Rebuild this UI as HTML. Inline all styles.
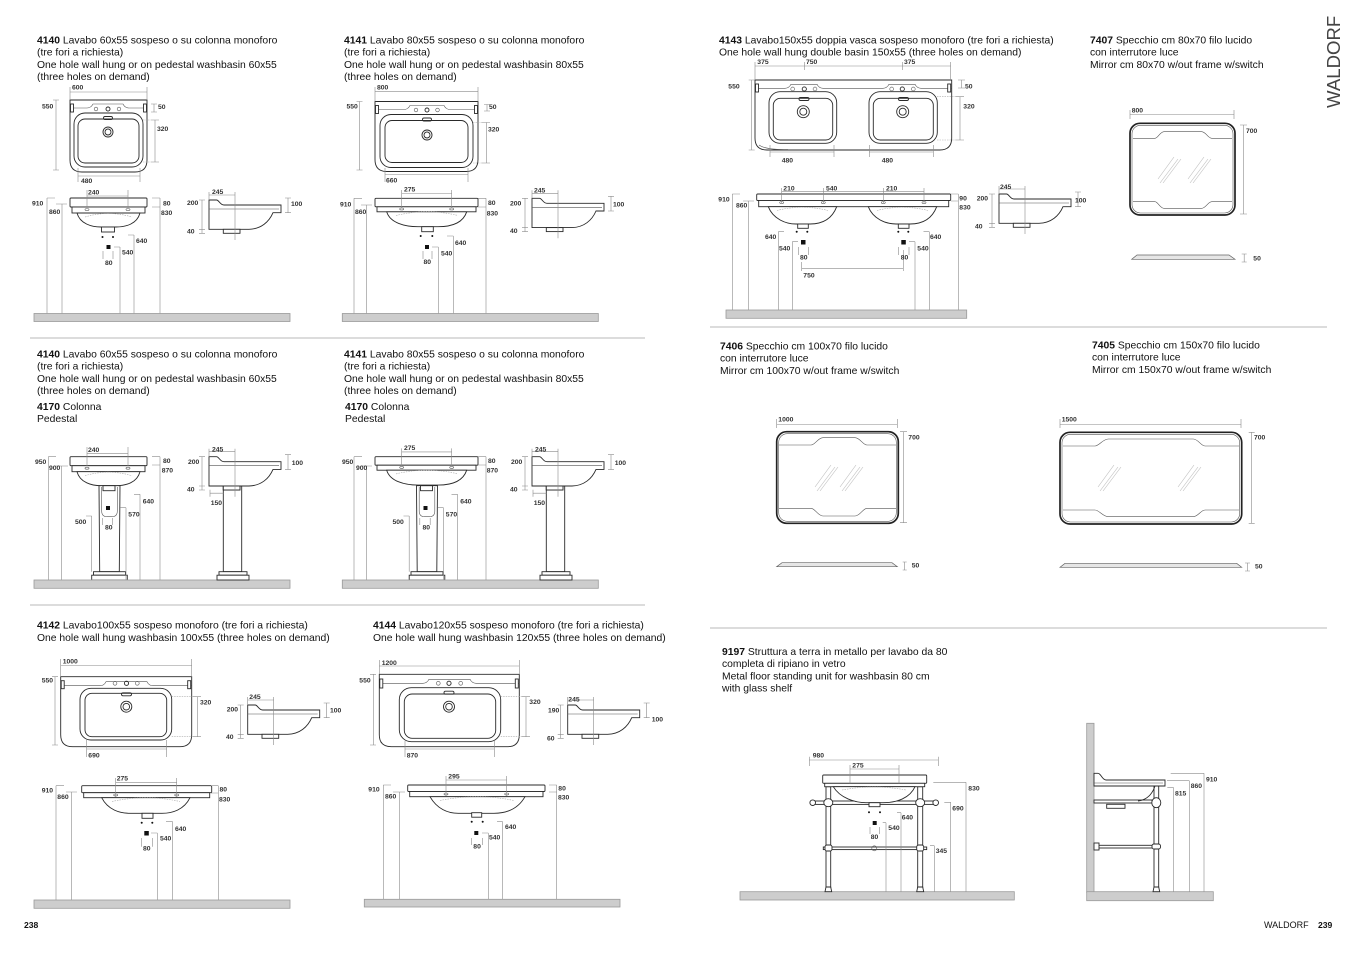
<!DOCTYPE html>
<html>
<head>
<meta charset="utf-8">
<style>
html,body{margin:0;padding:0;background:#fff;}
svg{display:block;}
</style>
</head>
<body>
<svg xmlns="http://www.w3.org/2000/svg" width="1356" height="959" viewBox="0 0 1356 959">
<style>
.o{fill:none;stroke:#2a2a2a;stroke-width:.9}
.w{fill:#fff;stroke:#2a2a2a;stroke-width:.9}
.th{fill:none;stroke:#555;stroke-width:.6}
.d{fill:none;stroke:#8a8a8a;stroke-width:.6}
.dd{fill:none;stroke:#aaa;stroke-width:.6;stroke-dasharray:1.5 1}
.fl{fill:#cdcdcd;stroke:#9a9a9a;stroke-width:.8}
.n{font-family:"Liberation Sans",Arial,sans-serif;font-size:6.8px;font-weight:bold;fill:#333}
.h{font-family:"Liberation Sans",Arial,sans-serif;font-size:10.35px;fill:#111}
.r{fill:none;stroke:#bdbdbd;stroke-width:.6}
.m{fill:none;stroke:#222;stroke-width:1.7}
.pf{fill:#e6e6e6;stroke:#666;stroke-width:.7}
.sep{stroke:#dcdcdc;stroke-width:2}
.k{fill:#111}
</style>
<rect width="1356" height="959" fill="#fff"/>

<defs>
<g id="sideShape">
 <path class="w" d="M0,0 H7.5 C10,0 11,5 15,5 H72 V12.7 H64 C60,22 52,29 40,29.3 H0 Z"/>
 <path class="th" d="M0,9 H70"/>
 <rect class="w" x="14.3" y="29.3" width="16.7" height="4"/>
</g>
<g id="sideDims">
 <path class="d" d="M0,-5 H26 M0,-8 V0 M26,-8 V40 M-7,0 V33.3 M-10,0 H-4 M-10,29.3 H-4 M-10,33.3 H-4 M79,-2 V12.7 M76,-2 H82 M76,12.7 H82"/>
</g>
<g id="sideCol">
 <rect class="w" x="14.3" y="29.3" width="18.4" height="85.7"/>
 <rect class="w" x="14.3" y="29.3" width="16.7" height="4"/>
 <rect class="w" x="10" y="115" width="28" height="3.5"/>
 <rect class="w" x="8" y="118.5" width="32" height="4.8"/>
 <path class="d" d="M1,33 V40 M1,36.5 H14.3"/>
</g>
<g id="f60">
 <rect class="w" x="70" y="198" width="77" height="9" rx="1"/>
 <rect class="w" x="72" y="207" width="73" height="6"/>
 <path class="w" d="M77,213 C80,224 92,227 101,227 H116 C126,227 137,224 140,213 Z"/>
 <path class="dd" d="M85,217 Q108,210 132,217"/>
 <ellipse class="th" cx="87" cy="209.5" rx="2" ry="1"/>
 <ellipse class="th" cx="128" cy="209.5" rx="2" ry="1"/>
</g>
<g id="f80">
 <rect class="w" x="375" y="198.3" width="103" height="8.5" rx="1"/>
 <rect class="w" x="377" y="206.8" width="99" height="5"/>
 <path class="w" d="M386.7,211.8 C390,223 405,226.7 418,226.7 H438 C452,226.7 463,223 466.7,211.8 Z"/>
 <path class="dd" d="M396,215.5 Q427,208 458,215.5"/>
 <ellipse class="th" cx="401.7" cy="209" rx="2" ry="1"/>
 <ellipse class="th" cx="451.7" cy="209" rx="2" ry="1"/>
</g>
<g id="ped">
 <path class="w" d="M99,485.7 H120 L119.3,571.7 H99.7 Z"/>
 <path class="th" d="M101.7,487 V511 Q101.7,516.7 107,516.7 H112 Q117.3,516.7 117.3,511 V487"/>
 <rect class="w" x="103" y="485.7" width="12" height="5"/>
 <rect class="k" x="106" y="506" width="4" height="4"/>
 <rect class="w" x="93.5" y="571.7" width="32" height="3.5"/>
 <rect class="w" x="91.7" y="575.2" width="35.6" height="4.8"/>
 <path class="d" d="M140,494.3 V580 M134,494.3 H140 M126,507.7 V580 M120,507.7 H126 M91.7,516 V571.7 M86,516 H91.7 M102.3,518 V525 M112.7,518 V525"/>
</g>
<g id="refl">
 <path class="r" d="M2,26 L20,2 M5,26 L23,2 M0,22 L16,0"/>
</g>
</defs>

<!-- separators -->
<line class="sep" x1="30" y1="338" x2="645" y2="338"/>
<line class="sep" x1="30" y1="605" x2="645" y2="605"/>
<line class="sep" x1="710" y1="327" x2="1327" y2="327"/>
<line class="sep" x1="710" y1="628" x2="1327" y2="628"/>

<!-- ================= HEADERS ================= -->
<text class="h" x="37" y="43.5"><tspan font-weight="bold">4140</tspan> Lavabo 60x55 sospeso o su colonna monoforo</text>
<text class="h" x="37" y="55.7">(tre fori a richiesta)</text>
<text class="h" x="37" y="67.9">One hole wall hung or on pedestal washbasin 60x55</text>
<text class="h" x="37" y="80.1">(three holes on demand)</text>

<text class="h" x="344" y="43.5"><tspan font-weight="bold">4141</tspan> Lavabo 80x55 sospeso o su colonna monoforo</text>
<text class="h" x="344" y="55.7">(tre fori a richiesta)</text>
<text class="h" x="344" y="67.9">One hole wall hung or on pedestal washbasin 80x55</text>
<text class="h" x="344" y="80.1">(three holes on demand)</text>

<text class="h" x="37" y="357.5"><tspan font-weight="bold">4140</tspan> Lavabo 60x55 sospeso o su colonna monoforo</text>
<text class="h" x="37" y="369.7">(tre fori a richiesta)</text>
<text class="h" x="37" y="381.9">One hole wall hung or on pedestal washbasin 60x55</text>
<text class="h" x="37" y="394.1">(three holes on demand)</text>
<text class="h" x="37" y="410"><tspan font-weight="bold">4170</tspan> Colonna</text>
<text class="h" x="37" y="422.2">Pedestal</text>

<text class="h" x="344" y="357.5"><tspan font-weight="bold">4141</tspan> Lavabo 80x55 sospeso o su colonna monoforo</text>
<text class="h" x="344" y="369.7">(tre fori a richiesta)</text>
<text class="h" x="344" y="381.9">One hole wall hung or on pedestal washbasin 80x55</text>
<text class="h" x="344" y="394.1">(three holes on demand)</text>
<text class="h" x="345" y="410"><tspan font-weight="bold">4170</tspan> Colonna</text>
<text class="h" x="345" y="422.2">Pedestal</text>

<text class="h" x="37" y="628.5"><tspan font-weight="bold">4142</tspan> Lavabo100x55 sospeso monoforo (tre fori a richiesta)</text>
<text class="h" x="37" y="641">One hole wall hung washbasin 100x55 (three holes on demand)</text>

<text class="h" x="373" y="628.5"><tspan font-weight="bold">4144</tspan> Lavabo120x55 sospeso monoforo (tre fori a richiesta)</text>
<text class="h" x="373" y="641">One hole wall hung washbasin 120x55 (three holes on demand)</text>

<text class="h" x="719" y="43.5"><tspan font-weight="bold">4143</tspan> Lavabo150x55 doppia vasca sospeso monoforo (tre fori a richiesta)</text>
<text class="h" x="719" y="55.7">One hole wall hung double basin 150x55 (three holes on demand)</text>

<text class="h" x="1090" y="43.5"><tspan font-weight="bold">7407</tspan> Specchio cm 80x70 filo lucido</text>
<text class="h" x="1090" y="55.7">con interrutore luce</text>
<text class="h" x="1090" y="67.9">Mirror cm 80x70 w/out frame w/switch</text>

<text class="h" x="720" y="349.5"><tspan font-weight="bold">7406</tspan> Specchio cm 100x70 filo lucido</text>
<text class="h" x="720" y="361.7">con interrutore luce</text>
<text class="h" x="720" y="373.9">Mirror cm 100x70 w/out frame w/switch</text>

<text class="h" x="1092" y="348.5"><tspan font-weight="bold">7405</tspan> Specchio cm 150x70 filo lucido</text>
<text class="h" x="1092" y="360.7">con interrutore luce</text>
<text class="h" x="1092" y="372.9">Mirror cm 150x70 w/out frame w/switch</text>

<text class="h" x="722" y="655"><tspan font-weight="bold">9197</tspan> Struttura a terra in metallo per lavabo da 80</text>
<text class="h" x="722" y="667.2">completa di ripiano in vetro</text>
<text class="h" x="722" y="679.4">Metal floor standing unit for washbasin 80 cm</text>
<text class="h" x="722" y="691.6">with glass shelf</text>

<!-- vertical title and page numbers -->
<text transform="translate(1340,108) rotate(-90)" font-family="Liberation Sans, Arial, sans-serif" font-size="18.6" fill="#444">WALDORF</text>
<text x="24" y="928" font-family="Liberation Sans, Arial, sans-serif" font-size="8.6" font-weight="bold" fill="#111">238</text>
<text x="1264" y="928" font-family="Liberation Sans, Arial, sans-serif" font-size="9" fill="#111">WALDORF</text>
<text x="1318" y="928" font-family="Liberation Sans, Arial, sans-serif" font-size="8.6" font-weight="bold" fill="#111">239</text>

<!-- ================= SECTION 1 : 4140 ================= -->
<path class="w" d="M70,100 H147 V160 Q147,172 135,172 H82 Q70,172 70,160 Z"/>
<path class="th" d="M70,108 H87 Q91,108 93,104 H123 Q125,108 129,108 H147"/>
<rect class="w" x="70.5" y="104" width="3" height="8"/>
<rect class="w" x="143.5" y="104" width="3" height="8"/>
<rect class="o" x="74" y="113" width="69" height="54" rx="11"/>
<rect class="o" x="78" y="119" width="61" height="44" rx="7"/>
<rect class="o" x="103.5" y="116.5" width="9" height="3" rx="1.5"/>
<circle class="o" cx="108" cy="132" r="5"/><circle class="o" cx="108" cy="132" r="3"/>
<circle class="th" cx="96" cy="109" r="1.8"/><circle class="o" cx="108" cy="109" r="2"/><circle class="th" cx="119" cy="109" r="1.8"/>
<path class="d" d="M70,92 H147 M70,87 V100 M147,87 V100 M56,100 V170 M53,100 H59 M53,170 H59 M154,104 V112 M151,104 H157 M151,112 H157 M155,120 V162 M151,120 H159 M151,162 H159 M78,176 H140 M78,168 V182 M140,168 V182"/>
<path class="dd" d="M143,120 H151 M143,162 H151"/>
<text class="n" x="72" y="89.5">600</text>
<text class="n" x="42" y="108.5">550</text>
<text class="n" x="158" y="109">50</text>
<text class="n" x="157" y="131">320</text>
<text class="n" x="81" y="183">480</text>

<use href="#f60"/>
<rect class="w" x="101.5" y="227" width="13" height="5"/>
<circle class="k" cx="102.5" cy="237" r="1"/><circle class="k" cx="113" cy="237" r="1"/>
<rect class="k" x="106.5" y="245" width="4" height="4"/>
<path class="d" d="M87,190 V208 M128,190 V208 M87,196 H128 M47,198 V314 M47,198 H55 M62,204 V314 M56,204 H67 M160,198 V314 M152,198 H160 M152,207 H160 M134,235 V314 M128,235 H134 M120,247 V314 M114,247 H120 M103,251 V259 M113,251 V259"/>
<text class="n" x="88" y="194.3">240</text>
<text class="n" x="32" y="205.5">910</text>
<text class="n" x="49" y="214">860</text>
<text class="n" x="163" y="205.5">80</text>
<text class="n" x="161" y="215">830</text>
<text class="n" x="136" y="243">640</text>
<text class="n" x="122" y="254.5">540</text>
<text class="n" x="105" y="265">80</text>
<rect class="fl" x="34" y="313.5" width="256" height="8"/>

<use href="#sideShape" transform="translate(209,200)"/>
<use href="#sideDims" transform="translate(209,200)"/>
<text class="n" x="212" y="194">245</text>
<text class="n" x="187" y="205">200</text>
<text class="n" x="187" y="233.5">40</text>
<text class="n" x="291" y="206">100</text>

<!-- ================= SECTION 2 : 4141 ================= -->
<path class="w" d="M375,101.5 H478 V159.5 Q478,171.5 466,171.5 H387 Q375,171.5 375,159.5 Z"/>
<path class="th" d="M375,109.5 H404 Q408,109.5 410,105.5 H444 Q446,109.5 450,109.5 H478"/>
<rect class="w" x="375.5" y="105.5" width="3" height="8"/>
<rect class="w" x="474.5" y="105.5" width="3" height="8"/>
<rect class="o" x="380" y="114.5" width="93" height="53" rx="11"/>
<rect class="o" x="385" y="120.5" width="83" height="42" rx="7"/>
<rect class="o" x="422.5" y="118" width="9" height="3" rx="1.5"/>
<circle class="o" cx="427" cy="135" r="5"/><circle class="o" cx="427" cy="135" r="3"/>
<circle class="th" cx="416" cy="110" r="1.8"/><circle class="o" cx="427" cy="110" r="2"/><circle class="th" cx="437.5" cy="110" r="1.8"/>
<path class="d" d="M375,91.7 H478 M375,87 V101.5 M478,87 V101.5 M359.5,101.5 V170 M356.5,101.5 H362.5 M356.5,170 H362.5 M487,104.5 V111 M484,104.5 H490 M484,111 H490 M486.5,122.5 V163 M482,122.5 H490 M482,163 H490 M385,174.5 H468 M385,168 V182 M468,168 V182"/>
<path class="dd" d="M473,122.5 H482 M473,163 H482"/>
<text class="n" x="377" y="89.5">800</text>
<text class="n" x="346.5" y="108.5">550</text>
<text class="n" x="489" y="109">50</text>
<text class="n" x="488" y="131.5">320</text>
<text class="n" x="386" y="182.5">660</text>

<use href="#f80"/>
<rect class="w" x="421.7" y="226.7" width="11.6" height="5"/>
<circle class="k" cx="420.7" cy="236" r="1"/><circle class="k" cx="432.3" cy="236" r="1"/>
<rect class="k" x="425" y="245" width="4" height="4"/>
<path class="d" d="M401.7,190 V208 M451.7,190 V208 M401.7,193.5 H451.7 M354,198.3 V313.5 M354,198.3 H362 M366.7,205 V313.5 M361,205 H372 M486,198.3 V313.5 M478,198.3 H486 M478,207 H486 M453.3,236 V313.5 M447,236 H453.3 M438.3,247 V313.5 M432,247 H438.3 M423,251 V259 M432,251 V259"/>
<text class="n" x="404" y="191.7">275</text>
<text class="n" x="340" y="206.5">910</text>
<text class="n" x="355" y="214">860</text>
<text class="n" x="488" y="205.2">80</text>
<text class="n" x="486.7" y="215.7">830</text>
<text class="n" x="455" y="245.1">640</text>
<text class="n" x="441" y="255.7">540</text>
<text class="n" x="423.5" y="264.1">80</text>
<rect class="fl" x="342.3" y="313.5" width="256" height="8"/>

<use href="#sideShape" transform="translate(532,198.3)"/>
<use href="#sideDims" transform="translate(532,198.3)"/>
<text class="n" x="534" y="192.4">245</text>
<text class="n" x="510" y="205.7">200</text>
<text class="n" x="510" y="233">40</text>
<text class="n" x="613" y="206.7">100</text>

<!-- ================= SECTION 3 : 4140 + 4170 ================= -->
<use href="#f60" transform="translate(0,258.7)"/>
<use href="#ped"/>
<path class="d" d="M87,447 V466 M128,447 V466 M87,453.3 H128 M48.3,456.7 V580 M48.3,456.7 H56 M61.7,466 V580 M56,466 H68 M160,456.7 V580 M152,456.7 H160 M152,465 H160"/>
<text class="n" x="88" y="452">240</text>
<text class="n" x="35" y="464">950</text>
<text class="n" x="49" y="470">900</text>
<text class="n" x="163" y="463">80</text>
<text class="n" x="161.7" y="472.5">870</text>
<text class="n" x="142.7" y="503.4">640</text>
<text class="n" x="128.3" y="516.4">570</text>
<text class="n" x="75" y="524.1">500</text>
<text class="n" x="105" y="529.7">80</text>
<rect class="fl" x="34" y="580" width="256" height="8.3"/>

<use href="#sideCol" transform="translate(209,456.7)"/>
<use href="#sideShape" transform="translate(209,456.7)"/>
<use href="#sideDims" transform="translate(209,456.7)"/>
<text class="n" x="212" y="451.7">245</text>
<text class="n" x="188" y="464.1">200</text>
<text class="n" x="187" y="491.7">40</text>
<text class="n" x="291.7" y="465.1">100</text>
<text class="n" x="210.7" y="505.1">150</text>

<!-- ================= SECTION 4 : 4141 + 4170 ================= -->
<use href="#f80" transform="translate(0,258.4)"/>
<use href="#ped" transform="translate(317.5,0)"/>
<path class="d" d="M401.7,448.4 V466.4 M451.7,448.4 V466.4 M401.7,451.9 H451.7 M354,456.7 V580 M354,456.7 H362 M366.7,466 V580 M361,466 H372 M486,456.7 V580 M478,456.7 H486 M478,465 H486"/>
<text class="n" x="404" y="450.1">275</text>
<text class="n" x="342" y="464">950</text>
<text class="n" x="356" y="470">900</text>
<text class="n" x="488" y="463">80</text>
<text class="n" x="486.7" y="472.5">870</text>
<text class="n" x="460.2" y="503.4">640</text>
<text class="n" x="445.8" y="516.4">570</text>
<text class="n" x="392.5" y="524.1">500</text>
<text class="n" x="422.5" y="529.7">80</text>
<rect class="fl" x="342.3" y="580" width="256" height="8.3"/>

<use href="#sideCol" transform="translate(532,456.7)"/>
<use href="#sideShape" transform="translate(532,456.7)"/>
<use href="#sideDims" transform="translate(532,456.7)"/>
<text class="n" x="535" y="451.7">245</text>
<text class="n" x="511" y="464.1">200</text>
<text class="n" x="510" y="491.7">40</text>
<text class="n" x="614.7" y="465.1">100</text>
<text class="n" x="533.7" y="505.1">150</text>

<!-- ================= SECTION 5 : 4142 ================= -->
<path class="w" d="M60.7,676.7 H191.7 V734.7 Q191.7,746.7 179.7,746.7 H72.7 Q60.7,746.7 60.7,734.7 Z"/>
<path class="th" d="M60.7,685.7 H100 Q104,685.7 106,681.7 H147 Q149,685.7 153,685.7 H191.7"/>
<rect class="w" x="61.2" y="680.7" width="3" height="8"/>
<rect class="w" x="187.7" y="680.7" width="3" height="8"/>
<rect class="o" x="80" y="688.3" width="91.7" height="51.7" rx="11"/>
<rect class="o" x="85" y="693.3" width="81.7" height="43.4" rx="7"/>
<rect class="o" x="121.5" y="692.8" width="10" height="3" rx="1.5"/>
<circle class="o" cx="126.3" cy="706.7" r="5.5"/><circle class="o" cx="126.3" cy="706.7" r="3.3"/>
<circle class="th" cx="115" cy="683.3" r="1.9"/><circle class="o" cx="126.5" cy="683.3" r="2.1"/><circle class="th" cx="137.3" cy="683.3" r="1.9"/>
<path class="d" d="M60.7,665.5 H191.7 M60.7,659 V676.7 M191.7,659 V676.7 M55,676.7 V745 M52,676.7 H58 M52,745 H58 M197.3,696.7 V736.7 M193,696.7 H201 M193,736.7 H201 M86.7,740 V757 M166.7,740 V757 M86.7,749 H166.7"/>
<path class="dd" d="M171.7,696.7 H193 M171.7,736.7 H193"/>
<text class="n" x="62.7" y="663.4">1000</text>
<text class="n" x="41.7" y="682.4">550</text>
<text class="n" x="200" y="704.7">320</text>
<text class="n" x="88.3" y="757.4">690</text>

<rect class="w" x="81.7" y="785.7" width="130" height="7" rx="1"/>
<rect class="w" x="83.7" y="792.7" width="126" height="5"/>
<path class="w" d="M101.7,797.7 C108,810 120,813.3 130,813.3 H162 C172,813.3 184,810 190,797.7 Z"/>
<path class="dd" d="M112,801.5 Q146,794 180,801.5"/>
<ellipse class="th" cx="115.7" cy="795" rx="2" ry="1"/><ellipse class="th" cx="176.7" cy="795" rx="2" ry="1"/>
<rect class="w" x="142" y="813.3" width="11" height="5"/>
<circle class="k" cx="141.7" cy="822.7" r="1"/><circle class="k" cx="152.3" cy="822.7" r="1"/>
<rect class="k" x="144.3" y="831" width="4.5" height="4.5"/>
<path class="d" d="M115.7,778 V797 M176.7,778 V797 M115.7,782.3 H176.7 M56,785.7 V900 M56,785.7 H64 M71.7,792 V900 M66,792 H77 M218.3,785.7 V900 M211,785.7 H218.3 M211,793 H218.3 M172.7,821.7 V900 M166,821.7 H172.7 M157.3,833 V900 M151,833 H157.3 M141.7,838 V846.7 M152.3,838 V846.7"/>
<text class="n" x="116.7" y="780.7">275</text>
<text class="n" x="41.7" y="792.4">910</text>
<text class="n" x="57.3" y="799.1">860</text>
<text class="n" x="219.5" y="791.7">80</text>
<text class="n" x="219" y="801.4">830</text>
<text class="n" x="175" y="831.1">640</text>
<text class="n" x="160" y="840.7">540</text>
<text class="n" x="143" y="850.7">80</text>
<rect class="fl" x="34" y="900" width="256" height="8.3"/>

<use href="#sideShape" transform="translate(247.7,705)"/>
<use href="#sideDims" transform="translate(247.7,705)"/>
<text class="n" x="249.3" y="699.1">245</text>
<text class="n" x="226.7" y="711.7">200</text>
<text class="n" x="226" y="739.1">40</text>
<text class="n" x="330" y="712.4">100</text>

<!-- ================= SECTION 6 : 4144 ================= -->
<path class="w" d="M379.3,674.3 H519.3 V734.7 Q519.3,746.7 507.3,746.7 H391.3 Q379.3,746.7 379.3,734.7 Z"/>
<path class="th" d="M379.3,683.3 H423 Q427,683.3 429,679.3 H470 Q472,683.3 476,683.3 H519.3"/>
<rect class="w" x="379.8" y="679" width="3" height="9"/>
<rect class="w" x="515.3" y="679" width="3" height="9"/>
<rect class="o" x="399.3" y="687.7" width="101.4" height="54" rx="12"/>
<rect class="o" x="404.3" y="694" width="91.4" height="44.3" rx="8"/>
<rect class="o" x="444" y="691.2" width="10" height="3" rx="1.5"/>
<circle class="o" cx="449" cy="706.7" r="5.5"/><circle class="o" cx="449" cy="706.7" r="3.3"/>
<circle class="th" cx="438.3" cy="683.3" r="1.9"/><circle class="o" cx="449" cy="683.3" r="2.1"/><circle class="th" cx="460.7" cy="683.3" r="1.9"/>
<path class="d" d="M379.3,666 H519.3 M379.3,660 V674.3 M519.3,660 V674.3 M373.3,674.3 V745 M370,674.3 H376 M370,745 H376 M526,696.7 V736.7 M522,696.7 H530 M522,736.7 H530 M405,741 V757 M494.3,741 V757 M405,749 H494.3"/>
<path class="dd" d="M500.7,696.7 H522 M500.7,736.7 H522"/>
<text class="n" x="381.7" y="665">1200</text>
<text class="n" x="359.3" y="682.4">550</text>
<text class="n" x="529.3" y="704.1">320</text>
<text class="n" x="406.7" y="757.4">870</text>

<rect class="w" x="407.7" y="785" width="137.3" height="6.5" rx="1"/>
<rect class="w" x="409.7" y="791.5" width="133.3" height="5.2"/>
<path class="w" d="M430,796.7 C437,809 448,813.3 458.3,813.3 H494 C506,813.3 518,809 525,796.7 Z"/>
<path class="dd" d="M440,800.5 Q477,793 514,800.5"/>
<ellipse class="th" cx="446" cy="794" rx="2" ry="1"/><ellipse class="th" cx="506.7" cy="794" rx="2" ry="1"/>
<rect class="w" x="471.7" y="812.7" width="10" height="4.5"/>
<circle class="k" cx="471.7" cy="821.7" r="1"/><circle class="k" cx="482.7" cy="821.7" r="1"/>
<rect class="k" x="474.3" y="831" width="4" height="4"/>
<path class="d" d="M446,776 V796 M506.7,776 V796 M446,780 H506.7 M383.3,785 V899.3 M383.3,785 H391 M399.3,792 V899.3 M393,792 H405 M556.7,785 V899.3 M549,785 H556.7 M549,792 H556.7 M502.7,821.7 V899.3 M497,821.7 H502.7 M488.3,833 V899.3 M482,833 H488.3 M471.7,838 V845 M482.7,838 V845"/>
<text class="n" x="448.3" y="778.4">295</text>
<text class="n" x="368.3" y="791.7">910</text>
<text class="n" x="385" y="798.4">860</text>
<text class="n" x="558.3" y="790.7">80</text>
<text class="n" x="558" y="799.7">830</text>
<text class="n" x="505" y="829.1">640</text>
<text class="n" x="489" y="839.7">540</text>
<text class="n" x="473.3" y="848.4">80</text>
<rect class="fl" x="364.3" y="899.3" width="255.7" height="7.7"/>

<use href="#sideShape" transform="translate(567.7,705)"/>
<use href="#sideDims" transform="translate(567.7,705)"/>
<text class="n" x="568.3" y="701.4">245</text>
<text class="n" x="548" y="712.4">190</text>
<text class="n" x="547" y="740.4">60</text>
<text class="n" x="651.7" y="721.4">100</text>

<!-- ================= SECTION 7 : 4143 ================= -->
<path class="w" d="M755,80 H951.7 V138 Q951.7,150 939.7,150 H767 Q755,150 755,138 Z"/>
<path class="th" d="M755,88.3 H785 Q789,88.3 791,84.3 H817 Q819,88.3 823,88.3 H883 Q887,88.3 889,84.3 H915 Q917,88.3 921,88.3 H951.7"/>
<path class="th" d="M759,145 Q766,150 788,149.5"/>
<rect class="w" x="755.5" y="84" width="3" height="8"/>
<rect class="w" x="947.7" y="84" width="3" height="8"/>
<rect class="o" x="769" y="91.7" width="67.7" height="51.6" rx="11"/>
<rect class="o" x="773.3" y="98.3" width="59.4" height="41.7" rx="7"/>
<rect class="o" x="869" y="91.7" width="68.3" height="51.6" rx="11"/>
<rect class="o" x="873.3" y="98.3" width="60" height="41.7" rx="7"/>
<rect class="o" x="799" y="97.5" width="10" height="3" rx="1.5"/>
<rect class="o" x="898.5" y="97.5" width="10" height="3" rx="1.5"/>
<circle class="o" cx="803.3" cy="111.7" r="6"/><circle class="o" cx="803.3" cy="111.7" r="3.5"/>
<circle class="o" cx="902.7" cy="111.7" r="6"/><circle class="o" cx="902.7" cy="111.7" r="3.5"/>
<circle class="th" cx="792.7" cy="89" r="1.9"/><circle class="o" cx="804.3" cy="89" r="2.1"/><circle class="th" cx="815" cy="89" r="1.9"/>
<circle class="th" cx="891.7" cy="89" r="1.9"/><circle class="o" cx="902.3" cy="89" r="2.1"/><circle class="th" cx="913.3" cy="89" r="1.9"/>
<path class="d" d="M755,66 H950.7 M755,62 V80 M804.3,62 V70 M902.3,62 V70 M950.7,62 V80 M751.7,80 V150 M748.7,80 H754.7 M748.7,150 H754.7 M958,80 H965 M958,88 H965 M961.5,80 V88 M960,96.7 V140 M956,96.7 H964 M956,140 H964 M770,145 V157 M834,145 V157 M770,152 H834 M869.3,145 V157 M933.3,145 V157 M869.3,152 H933.3"/>
<path class="dd" d="M937,96.7 H956 M937,140 H956"/>
<text class="n" x="757.3" y="64.1">375</text>
<text class="n" x="806" y="64.1">750</text>
<text class="n" x="904" y="64.1">375</text>
<text class="n" x="728.3" y="88.4">550</text>
<text class="n" x="965" y="88.4">50</text>
<text class="n" x="963.3" y="108.4">320</text>
<text class="n" x="781.7" y="162.4">480</text>
<text class="n" x="881.7" y="162.4">480</text>

<rect class="w" x="756.7" y="194" width="194" height="6.5" rx="1"/>
<rect class="w" x="758.7" y="200.5" width="190" height="6.2"/>
<path class="w" d="M768.3,206.7 C773,219 786,224 796,224 H810 C822,224 832,219 836.7,206.7 Z"/>
<path class="w" d="M868.3,206.7 C873,219 886,224 896,224 H910 C922,224 932,219 936.7,206.7 Z"/>
<path class="dd" d="M777,210.5 Q802,204 828,210.5 M877,210.5 Q902,204 928,210.5"/>
<ellipse class="th" cx="781.7" cy="202.5" rx="2" ry="1"/><ellipse class="th" cx="823.3" cy="202.5" rx="2" ry="1"/>
<ellipse class="th" cx="883.3" cy="202.5" rx="2" ry="1"/><ellipse class="th" cx="924" cy="202.5" rx="2" ry="1"/>
<rect class="w" x="797.7" y="224" width="10.6" height="4.3"/>
<rect class="w" x="898.3" y="224" width="10.7" height="4.3"/>
<circle class="k" cx="796.7" cy="231.7" r="1"/><circle class="k" cx="807.3" cy="231.7" r="1"/>
<circle class="k" cx="898.3" cy="231.7" r="1"/><circle class="k" cx="908.3" cy="231.7" r="1"/>
<rect class="k" x="801" y="240" width="4.5" height="4.5"/>
<rect class="k" x="901.3" y="240" width="4.5" height="4.5"/>
<path class="d" d="M781.7,191.7 H924 M781.7,188 V203 M823.3,188 V203 M883.3,188 V203 M924,188 V203 M798.5,247 V255 M808.5,247 V255 M898.5,247 V255 M909,247 V255 M801.7,262 V271 M903.3,250 V271 M801.7,268.3 H903.3 M732.3,194 V310 M732.3,194 H740 M748.3,201 V310 M743,201 H754 M958.3,194 V310 M951,194 H958.3 M951,201 H958.3 M778.3,231.7 V310 M778.3,231.7 H784 M792.3,241.7 V310 M792.3,241.7 H798 M929.3,231.7 V310 M923.5,231.7 H929.3 M915,241.7 V310 M909,241.7 H915"/>
<text class="n" x="783.3" y="190.7">210</text>
<text class="n" x="826" y="190.7">540</text>
<text class="n" x="886" y="190.7">210</text>
<text class="n" x="800" y="259.7">80</text>
<text class="n" x="900.7" y="259.7">80</text>
<text class="n" x="803.3" y="277.4">750</text>
<text class="n" x="718.3" y="201.7">910</text>
<text class="n" x="736" y="207.4">860</text>
<text class="n" x="959.3" y="200.7">90</text>
<text class="n" x="959.3" y="209.7">830</text>
<text class="n" x="765" y="239.1">640</text>
<text class="n" x="779" y="250.7">540</text>
<text class="n" x="930" y="239.1">640</text>
<text class="n" x="917.3" y="250.7">540</text>
<rect class="fl" x="726" y="310" width="240.7" height="8.3"/>

<use href="#sideShape" transform="translate(999,194)"/>
<use href="#sideDims" transform="translate(999,194)"/>
<text class="n" x="1000" y="189.1">245</text>
<text class="n" x="976.7" y="200.7">200</text>
<text class="n" x="975" y="228.4">40</text>
<text class="n" x="1075" y="202.4">100</text>

<!-- ================= MIRROR 7407 ================= -->
<rect class="m" x="1130" y="123.3" width="105" height="91.7" rx="10"/>
<rect class="th" x="1132" y="125.3" width="101" height="87.7" rx="8.5"/>
<path class="th" d="M1133,138.3 H1155 C1158,138.3 1160,131.7 1164,131.7 H1201.7 C1205.7,131.7 1208,138.3 1211.7,138.3 H1232"/>
<path class="th" d="M1133,201.7 H1155 C1158,201.7 1160,208.3 1164,208.3 H1201.7 C1205.7,208.3 1208,201.7 1211.7,201.7 H1232"/>
<use href="#refl" transform="translate(1158,157)"/>
<use href="#refl" transform="translate(1188,157)"/>
<path class="d" d="M1130,114.5 H1234 M1130,110 V119 M1234,110 V119 M1243.3,125 V214 M1240,125 H1247 M1240,214 H1247 M1241.7,254 H1246.7 M1241.7,262 H1246.7 M1244.2,254 V262"/>
<path class="pf" d="M1131.7,259.3 L1137,255 H1229 L1235,259.3 Z"/>
<text class="n" x="1131.7" y="112.4">800</text>
<text class="n" x="1246" y="133.1">700</text>
<text class="n" x="1253.3" y="260.7">50</text>

<!-- ================= MIRROR 7406 ================= -->
<rect class="m" x="776.7" y="431.7" width="121.6" height="91.6" rx="10"/>
<rect class="th" x="778.7" y="433.7" width="117.6" height="87.6" rx="8.5"/>
<path class="th" d="M779,445 H811 C815,445 818,437.7 823,437.7 H855 C860,437.7 863,445 867,445 H896"/>
<path class="th" d="M779,508.3 H811 C815,508.3 818,516 823,516 H855 C860,516 863,508.3 867,508.3 H896"/>
<use href="#refl" transform="translate(815,465)"/>
<use href="#refl" transform="translate(840,465)"/>
<path class="d" d="M776.7,424.5 H897.3 M776.7,419 V428 M897.3,419 V428 M903.3,431.7 V522.7 M900,431.7 H907 M900,522.7 H907 M902.7,562 H906.7 M902.7,570 H906.7 M904.7,562 V570"/>
<path class="pf" d="M776.7,566.7 L782,562.7 H892 L897.3,566.7 Z"/>
<text class="n" x="778.3" y="421.4">1000</text>
<text class="n" x="908.3" y="439.7">700</text>
<text class="n" x="911.7" y="567.4">50</text>

<!-- ================= MIRROR 7405 ================= -->
<rect class="m" x="1060" y="432.3" width="181.7" height="91.7" rx="10"/>
<rect class="th" x="1062" y="434.3" width="177.7" height="87.7" rx="8.5"/>
<path class="th" d="M1063,446 H1095 C1099,446 1103,439 1108.3,439 H1193.3 C1198,439 1201,446 1205,446 H1239"/>
<path class="th" d="M1063,510 H1095 C1099,510 1103,516.7 1108.3,516.7 H1193.3 C1198,516.7 1201,510 1205,510 H1239"/>
<use href="#refl" transform="translate(1098,465)"/>
<use href="#refl" transform="translate(1178,465)"/>
<path class="d" d="M1060,424.5 H1241 M1060,419 V428 M1241,419 V428 M1251.7,432.3 V523.3 M1248.7,432.3 H1254.7 M1248.7,523.3 H1254.7 M1245,563 H1250 M1245,571 H1250 M1247.5,563 V571"/>
<path class="pf" d="M1060,567.3 L1065,563.3 H1236.7 L1241.7,567.3 Z"/>
<text class="n" x="1061.7" y="421.4">1500</text>
<text class="n" x="1254" y="439.7">700</text>
<text class="n" x="1255" y="568.4">50</text>

<!-- ================= SECTION 9197 front ================= -->
<rect class="fl" x="740" y="891.7" width="274.3" height="8.3"/>
<rect class="w" x="826" y="786.7" width="4.7" height="101"/>
<rect class="w" x="917.7" y="786.7" width="5" height="101"/>
<path class="w" d="M825,891.7 L826,887 H830.7 L831.7,891.7 Z"/>
<path class="w" d="M916.7,891.7 L917.7,887 H922.7 L923.7,891.7 Z"/>
<rect class="w" x="812" y="801" width="124" height="3.4"/>
<ellipse class="w" cx="828.3" cy="802.7" rx="4.5" ry="4"/>
<ellipse class="w" cx="920.2" cy="802.7" rx="4.5" ry="4"/>
<circle class="w" cx="812.7" cy="802.7" r="2.8"/>
<circle class="w" cx="935.7" cy="802.7" r="2.8"/>
<rect class="w" x="823.3" y="847" width="103.4" height="2.6"/>
<rect class="w" x="825" y="845" width="7" height="6" rx="2"/>
<rect class="w" x="916.7" y="845" width="7" height="6" rx="2"/>
<circle class="th" cx="874.3" cy="848.3" r="2.5"/>
<rect class="w" x="822.7" y="775" width="104" height="8.3" rx="1"/>
<rect class="w" x="824.7" y="783.3" width="100" height="3.4"/>
<path class="w" d="M833.3,786.7 C840,798 855,802.7 866,802.7 H883 C897,802.7 910,798 915,786.7 Z"/>
<path class="dd" d="M842,790 Q874,784 906,790"/>
<rect class="w" x="869" y="802.7" width="11" height="4"/>
<circle class="k" cx="869" cy="812.3" r="1"/><circle class="k" cx="880" cy="812.3" r="1"/>
<rect class="k" x="872.7" y="821" width="4" height="4"/>
<path class="d" d="M809.3,760 H938.3 M809.3,756.7 V766 M938.3,756.7 V766 M850,769 H899 M850,765 V783.3 M899,765 V783.3 M870,827 V834 M879.5,827 V834 M966,782.3 V891.7 M933.3,782.3 H966 M950.7,802.3 V891.7 M944.3,802.3 H950.7 M934.3,845.7 V891.7 M930,845.7 H934.3 M901,812.7 V891.7 M897,812.7 H901 M886,822.7 V891.7 M882.7,822.7 H886"/>
<text class="n" x="812.7" y="757.4">980</text>
<text class="n" x="852.3" y="767.4">275</text>
<text class="n" x="870.7" y="839.1">80</text>
<text class="n" x="968.3" y="790.7">830</text>
<text class="n" x="952.3" y="810.7">690</text>
<text class="n" x="935.7" y="853.1">345</text>
<text class="n" x="901.7" y="819.7">640</text>
<text class="n" x="888.3" y="830.1">540</text>

<!-- ================= SECTION 9197 side ================= -->
<rect class="fl" x="1086.7" y="723.3" width="7.3" height="169"/>
<rect class="fl" x="1086.7" y="891.7" width="126.6" height="9"/>
<rect class="w" x="1154" y="786" width="4.7" height="101"/>
<path class="w" d="M1153,891.7 L1154,887 H1158.7 L1159.7,891.7 Z"/>
<rect class="w" x="1094" y="800" width="58" height="3"/>
<ellipse class="w" cx="1156.3" cy="802.7" rx="4.5" ry="5"/>
<rect class="w" x="1106.7" y="804.3" width="18.3" height="4"/>
<rect class="w" x="1095" y="845.3" width="61.7" height="2.7"/>
<rect class="w" x="1094" y="843" width="5" height="7"/>
<rect class="w" x="1152" y="844" width="8.5" height="5" rx="2"/>
<path class="w" d="M1094,773.3 H1098 C1101,773.3 1102,780 1106,780 H1165 V786 H1094 Z"/>
<path class="th" d="M1094,783 H1163"/>
<path class="o" d="M1155,786 C1152,795 1146,800 1138,801"/>
<path class="d" d="M1173.3,787.3 V891.7 M1167.3,787.3 H1173.3 M1189.3,780.7 V891.7 M1167,780.7 H1189.3 M1204,773.3 V891.7 M1170.7,773.3 H1204"/>
<text class="n" x="1175" y="795.7">815</text>
<text class="n" x="1190.7" y="788.1">860</text>
<text class="n" x="1206" y="781.7">910</text>

</svg>
</body>
</html>
